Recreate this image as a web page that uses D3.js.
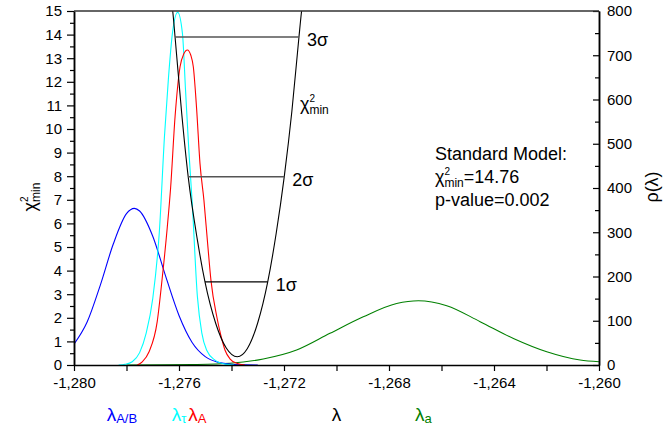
<!DOCTYPE html>
<html><head><meta charset="utf-8">
<script src="https://cdn.jsdelivr.net/npm/d3@7"></script>
<style>
body{margin:0;background:#fff}
svg{display:block}
text{font-family:"Liberation Sans",Arial,sans-serif;fill:#000}
</style>
</head><body>
<svg id="c" width="671" height="427"></svg>
<script>
// ---------- data ----------
const xTickValues = [-1280,-1278,-1276,-1274,-1272,-1270,-1268,-1266,-1264,-1262,-1260];
const xMajorTicks = [-1280,-1276,-1272,-1268,-1264,-1260];
const xTickLabels = ["-1,280","-1,276","-1,272","-1,268","-1,264","-1,260"];
const chiTicks = [0,1,2,3,4,5,6,7,8,9,10,11,12,13,14,15];
const chiMinorTicks = [0.5,1.5,2.5,3.5,4.5,5.5,6.5,7.5,8.5,9.5,10.5,11.5,12.5,13.5,14.5];
const rhoTicks = [0,100,200,300,400,500,600,700,800];
const rhoMinorTicks = [50,150,250,350,450,550,650,750];

// chi^2 curve (lambda, chi2)
const chiCurve = [
  [-1276.32,15.6],[-1276.24,15.0],[-1276.15,13.9],[-1275.90,10.7],[-1275.65,7.98],
  [-1275.30,5.3],[-1275.01,3.52],[-1274.60,1.76],[-1274.20,0.72],[-1273.78,0.35],
  [-1273.40,0.69],[-1273.00,1.79],[-1272.62,3.52],[-1272.30,5.56],[-1271.99,7.98],
  [-1271.70,10.75],[-1271.43,13.9],[-1271.33,15.0],[-1271.25,15.7]
];
// sigma lines
const sigmaLabels = ["1σ","2σ","3σ"];
const sigmaLevels = [3.52, 7.98, 13.9];
const sigmaLeft = [-1275.01, -1275.65, -1276.15];
const sigmaRight = [-1272.62, -1271.99, -1271.43];

// densities rho(lambda)
const rhoAB = [
  [-1280,47],[-1279.5,97],[-1279,180],[-1278.5,274],[-1278,342],[-1277.7,354],
  [-1277.5,348],[-1277,291],[-1276.5,199],[-1276,112],[-1275.5,51],[-1275,19],
  [-1274.5,6],[-1274,1.5],[-1273.5,0.3],[-1273,0]
];
const rhoTau = [
  [-1278.3,0],[-1278.06,1.5],[-1277.78,7.5],[-1277.5,28],[-1277.25,72],[-1277.0,150],
  [-1276.75,300],[-1276.55,520],[-1276.4,650],[-1276.25,750],[-1276.05,797],
  [-1275.87,750],[-1275.75,620],[-1275.62,480],[-1275.5,370],[-1275.3,155],
  [-1275.13,72],[-1274.95,34],[-1274.63,11],[-1274.25,2],[-1273.9,0]
];
const rhoA = [
  [-1277.59,0],[-1277.4,7],[-1277.14,30],[-1276.83,98],[-1276.64,196],[-1276.45,309],
  [-1276.32,400],[-1276.15,561],[-1275.96,674],[-1275.82,703],[-1275.68,712],
  [-1275.55,700],[-1275.455,674],[-1275.33,580],[-1275.2,455],[-1275.05,372],
  [-1274.91,275],[-1274.78,190],[-1274.56,109],[-1274.41,68],[-1274.25,34],
  [-1274.06,14],[-1273.8,4],[-1273.49,0]
];
const rhoa = [
  [-1278,0],[-1276.5,0.3],[-1275.5,1],[-1274.06,3.8],[-1272.79,13.6],[-1271.52,33.9],
  [-1270.25,71.6],[-1268.98,109],[-1267.71,139],[-1266.88,145.3],[-1265.8,134],
  [-1264.53,98],[-1263.26,60],[-1261.99,30],[-1260.72,11.3],[-1260,7.5]
];

// ---------- layout ----------
const L = 74, R = 599, T = 11, B = 365;
const svg = d3.select("#c");
const x = d3.scaleLinear().domain([-1280,-1260]).range([L,R]);
const yL = d3.scaleLinear().domain([0,15]).range([B,T]);
const yR = d3.scaleLinear().domain([0,800]).range([B,T]);

svg.append("defs").append("clipPath").attr("id","clip")
  .append("rect").attr("x",L).attr("y",T).attr("width",R-L).attr("height",B-T);

const plot = svg.append("g").attr("clip-path","url(#clip)");

const lineChi = d3.line().x(d=>x(d[0])).y(d=>yL(d[1])).curve(d3.curveMonotoneX);
const lineRho = d3.line().x(d=>x(d[0])).y(d=>yR(d[1])).curve(d3.curveMonotoneX);

plot.append("path").datum(rhoa).attr("d",lineRho).attr("fill","none").attr("stroke","#008000").attr("stroke-width",1.1);
plot.append("path").datum(rhoAB).attr("d",lineRho).attr("fill","none").attr("stroke","#0000ff").attr("stroke-width",1.1);
plot.append("path").datum(rhoTau).attr("d",lineRho).attr("fill","none").attr("stroke","#00ffff").attr("stroke-width",1.1);
plot.append("path").datum(rhoA).attr("d",lineRho).attr("fill","none").attr("stroke","#ff0000").attr("stroke-width",1.1);
plot.append("path").datum(chiCurve).attr("d",lineChi).attr("fill","none").attr("stroke","#000").attr("stroke-width",1.1);

// sigma lines
sigmaLevels.forEach((lv,i)=>{
  svg.append("line").attr("x1",x(sigmaLeft[i])).attr("x2",x(sigmaRight[i]))
    .attr("y1",yL(lv)).attr("y2",yL(lv))
    .attr("stroke", i===0 ? "#000" : "#555").attr("stroke-width", i===0 ? 1.2 : 1.5);
  svg.append("text").attr("x",x(sigmaRight[i])+8).attr("y",yL(lv)+9)
    .attr("font-size",18).text(sigmaLabels[i]);
});

// ---------- axes ----------
const axStyle = g => {
  g.selectAll("path.domain").attr("stroke","#000").attr("stroke-width",1.5);
  g.selectAll(".tick line").attr("stroke","#000").attr("stroke-width",1.2);
  g.selectAll("text").attr("font-size",15).attr("font-family",'"Liberation Sans",Arial,sans-serif').attr("fill","#000");
};

svg.append("g").attr("transform",`translate(0,${B})`)
  .call(d3.axisBottom(x).tickValues(xTickValues).tickSize(6).tickSizeOuter(0).tickPadding(6)
    .tickFormat(d=>{const k=xMajorTicks.indexOf(d);return k>=0?xTickLabels[k]:"";}))
  .call(axStyle);

svg.append("g").attr("transform",`translate(${L},0)`)
  .call(d3.axisLeft(yL).tickValues(chiMinorTicks).tickSize(4).tickSizeOuter(0).tickFormat(""))
  .call(axStyle);
svg.append("g").attr("transform",`translate(${L},0)`)
  .call(d3.axisLeft(yL).tickValues(chiTicks).tickSize(7).tickSizeOuter(0).tickPadding(5).tickFormat(d3.format("d")))
  .call(axStyle);

svg.append("g").attr("transform",`translate(${R},0)`)
  .call(d3.axisRight(yR).tickValues(rhoMinorTicks).tickSize(-4).tickSizeOuter(0).tickFormat(""))
  .call(axStyle);
svg.append("g").attr("transform",`translate(${R},0)`)
  .call(d3.axisRight(yR).tickValues(rhoTicks).tickSize(-6).tickSizeOuter(0).tickPadding(8).tickFormat(d3.format("d")))
  .call(axStyle);

// top frame
svg.append("line").attr("x1",L).attr("x2",R).attr("y1",T).attr("y2",T)
  .attr("stroke","#333").attr("stroke-width",1.5);

// ---------- texts ----------
function chiText(g, x0, y0, fs, ss, supDy, subDy, suffix, color){
  color = color || "#000";
  const t = g.append("text").attr("x",x0).attr("y",y0).attr("font-size",fs).style("fill",color).text("χ");
  const w = t.node().getComputedTextLength();
  g.append("text").attr("x",x0+w).attr("y",y0+supDy).attr("font-size",ss-2).style("fill",color).text("2");
  const m = g.append("text").attr("x",x0+w).attr("y",y0+subDy).attr("font-size",ss).style("fill",color).text("min");
  const mw = m.node().getComputedTextLength();
  let sw = 0;
  if (suffix){
    const s = g.append("text").attr("x",x0+w+mw).attr("y",y0).attr("font-size",fs).style("fill",color).text(suffix);
    sw = s.node().getComputedTextLength();
  }
  return w+mw+sw;
}

// in-plot chi2 label
chiText(svg.append("g"), 300, 110, 18, 12, -8.5, 3.5, null);

// annotation
svg.append("text").attr("x",435).attr("y",160).attr("font-size",18).text("Standard Model:");
chiText(svg.append("g"), 435, 183, 18, 12, -8.5, 3.5, "=14.76");
svg.append("text").attr("x",435).attr("y",206).attr("font-size",18).text("p-value=0.002");

// left axis title (rotated)
{
  const g = svg.append("g").attr("transform","translate(36,197) rotate(-90)");
  const inner = g.append("g");
  const w = chiText(inner, 0, 0, 18, 12, -8.5, 3.5, null);
  inner.attr("transform",`translate(${-w/2},0)`);
}
// right axis title
svg.append("text").attr("transform","translate(658,187) rotate(-90)")
  .attr("text-anchor","middle").attr("font-size",18).text("ρ(λ)");

// bottom lambda labels
function lam(x0, y0, sub, color){
  const t = svg.append("text").attr("x",x0).attr("y",y0).attr("font-size",19).style("fill",color).text("λ");
  const w = t.node().getComputedTextLength();
  if (sub) svg.append("text").attr("x",x0+w).attr("y",y0+2).attr("font-size",13).style("fill",color).text(sub);
}
lam(106.7, 421, "A/B", "#0000ff");
lam(171.7, 421, "τ", "#00ffff");
lam(188.3, 421, "A", "#ff0000");
lam(331.7, 421, null, "#000");
lam(415, 421, "a", "#008000");
</script>
</body></html>
